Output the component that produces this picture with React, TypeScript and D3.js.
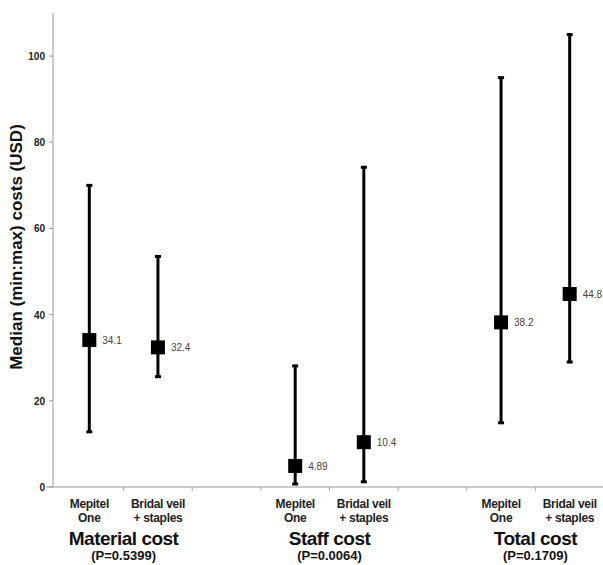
import React from "react";
import * as d3 from "d3";

// Chart values
const groups = ["Material cost", "Staff cost", "Total cost"];
const pValues = ["(P=0.5399)", "(P=0.0064)", "(P=0.1709)"];
const treatments = [
  ["Mepitel", "One"],
  ["Bridal veil", "+ staples"],
];
const medians = [34.1, 32.4, 4.89, 10.4, 38.2, 44.8];
const minima = [12.8, 25.6, 0.7, 1.2, 14.9, 29];
const maxima = [70, 53.5, 28.1, 74.2, 95, 105];
const medianLabels = ["34.1", "32.4", "4.89", "10.4", "38.2", "44.8"];
const yTicks = [0, 20, 40, 60, 80, 100];

const width = 603;
const height = 565;
const margin = { top: 13, right: -1, bottom: 78, left: 55 };

// 8 slots: two per group plus a blank spacer between groups
const slots = d3.range(8);
const slotOf = (i: number) => Math.floor(i / 2) * 3 + (i % 2);

const App: React.FC = () => {
  const x = d3
    .scaleBand<number>()
    .domain(slots)
    .range([margin.left, width - margin.right])
    .padding(0);

  const y = d3
    .scaleLinear()
    .domain([0, 110])
    .range([height - margin.bottom, margin.top]);

  const font = "'Liberation Sans', Arial, sans-serif";
  const cx = (i: number) => (x(slotOf(i)) ?? 0) + x.bandwidth() / 2;
  const y0 = y(0);

  return (
    <div style={{ position: "absolute", left: 0, top: 0 }}>
      <svg width={width} height={height} style={{ display: "block", background: "#fff" }}>
        {/* Axes */}
        <line x1={margin.left - 2} x2={margin.left - 2} y1={y(110)} y2={y0} stroke="#999" strokeWidth={1} />
        <line x1={margin.left - 9} x2={width} y1={y0} y2={y0} stroke="#999" strokeWidth={1} />
        {yTicks.map((t) => (
          <g key={t}>
            <line x1={margin.left - 6} x2={margin.left - 2} y1={y(t)} y2={y(t)} stroke="#999" />
            <text
              x={margin.left - 10}
              y={y(t) + 4}
              textAnchor="end"
              fontFamily={font}
              fontWeight="bold"
              fontSize={10}
              fill="#222"
            >
              {t}
            </text>
          </g>
        ))}
        {slots.slice(1).map((s) => (
          <line key={s} x1={x(s)} x2={x(s)} y1={y0} y2={y0 + 4} stroke="#aaa" />
        ))}
        <text
          transform={`translate(22,247) rotate(-90)`}
          textAnchor="middle"
          fontFamily={font}
          fontWeight="bold"
          fontSize={17}
          fill="#111"
        >
          Median (min:max) costs (USD)
        </text>

        {/* Error bars with median markers */}
        {medians.map((m, i) => (
          <g key={i}>
            <line x1={cx(i)} x2={cx(i)} y1={y(minima[i])} y2={y(maxima[i])} stroke="#000" strokeWidth={3} />
            <line x1={cx(i) - 3} x2={cx(i) + 3} y1={y(minima[i])} y2={y(minima[i])} stroke="#000" strokeWidth={3} />
            <line x1={cx(i) - 3} x2={cx(i) + 3} y1={y(maxima[i])} y2={y(maxima[i])} stroke="#000" strokeWidth={3} />
            <rect x={cx(i) - 7} y={y(m) - 7} width={14} height={14} fill="#000" />
            <text x={cx(i) + 13} y={y(m) + 4} fontFamily={font} fontSize={10} fill="#444">
              {medianLabels[i]}
            </text>
          </g>
        ))}

        {/* Category labels */}
        {medians.map((_, i) => (
          <text
            key={i}
            x={cx(i)}
            y={y0 + 21}
            textAnchor="middle"
            fontFamily={font}
            fontWeight="bold"
            fontSize={12}
            letterSpacing={-0.3}
            fill="#222"
          >
            <tspan x={cx(i)}>{treatments[i % 2][0]}</tspan>
            <tspan x={cx(i)} dy={14}>{treatments[i % 2][1]}</tspan>
          </text>
        ))}
        {groups.map((g, k) => {
          const gx = (cx(k * 2) + cx(k * 2 + 1)) / 2;
          return (
            <g key={g}>
              <text
                x={gx}
                y={y0 + 58}
                textAnchor="middle"
                fontFamily={font}
                fontWeight="bold"
                fontSize={19}
                letterSpacing={-0.5}
                fill="#111"
              >
                {g}
              </text>
              <text
                x={gx}
                y={y0 + 73}
                textAnchor="middle"
                fontFamily={font}
                fontWeight="bold"
                fontSize={13}
                fill="#111"
              >
                {pValues[k]}
              </text>
            </g>
          );
        })}
      </svg>
    </div>
  );
};

export default App;
